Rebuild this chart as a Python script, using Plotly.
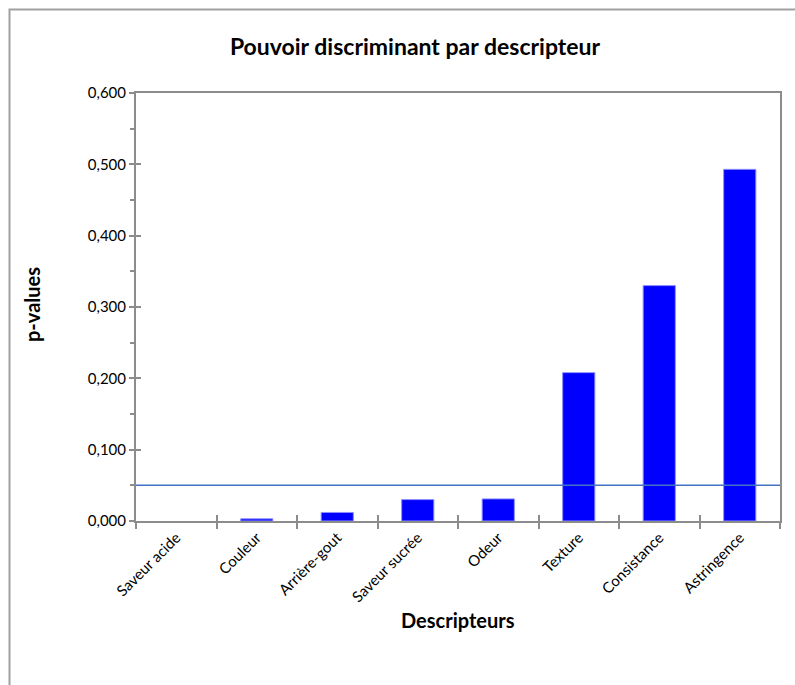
import plotly.graph_objects as go

# p-values of the discrimination test, one per sensory descriptor
descripteurs = ["Saveur acide", "Couleur", "Arrière-gout", "Saveur sucrée",
                "Odeur", "Texture", "Consistance", "Astringence"]
p_values = [0.000, 0.003, 0.012, 0.030, 0.031, 0.208, 0.330, 0.493]
seuil = 0.05  # significance threshold
y_ticks = [0.0, 0.1, 0.2, 0.3, 0.4, 0.5, 0.6]

FONT = "Lato, Carlito, Calibri, sans-serif"
AXIS_GRAY = "#8c8c8c"

W, H = 795, 685
L, R, T, B = 136, 15, 93, 164
pw, ph = W - L - R, H - T - B

fig = go.Figure()

fig.add_trace(go.Bar(
    x=descripteurs, y=p_values,
    marker=dict(color="#0000ff",
                line=dict(color="#8f8fff",
                          width=[0 if v == 0 else 1 for v in p_values])),
    hoverinfo="x+y", showlegend=False,
))

# invisible copy on overlay axes, used to draw the inner half of the cross ticks
fig.add_trace(go.Bar(
    x=descripteurs, y=p_values, xaxis="x2", yaxis="y2",
    marker=dict(color="rgba(0,0,0,0)", line=dict(width=0)),
    hoverinfo="skip", showlegend=False,
))

fig.update_layout(
    width=W, height=H,
    margin=dict(l=L, r=R, t=T, b=B),
    paper_bgcolor="white", plot_bgcolor="white",
    separators=", ",
    bargap=0.6,
    font=dict(family=FONT, size=15, color="#000000"),
    title=dict(text="<b>Pouvoir discriminant par descripteur</b>",
               x=415 / W, xref="container", xanchor="center",
               y=1 - 47 / H, yref="container", yanchor="middle",
               font=dict(size=23, family=FONT, color="#000000")),
    xaxis=dict(
        type="category", categoryorder="array", categoryarray=descripteurs,
        showline=True, linecolor=AXIS_GRAY, linewidth=2, mirror=True,
        ticks="outside", ticklen=6, tickwidth=1.5, tickcolor=AXIS_GRAY,
        tickson="boundaries", tickangle=-45,
        tickfont=dict(size=15, family=FONT, color="#000000"),
        showgrid=False, zeroline=False,
    ),
    yaxis=dict(
        range=[0, 0.6], tickvals=y_ticks, tickformat=".3f",
        showline=True, linecolor=AXIS_GRAY, linewidth=2, mirror=True,
        ticks="outside", ticklen=5, tickwidth=1.5, tickcolor=AXIS_GRAY,
        minor=dict(ticks="outside", ticklen=4, tickwidth=1.5,
                   tickcolor=AXIS_GRAY, dtick=0.05),
        tickfont=dict(size=15, family=FONT, color="#000000"),
        showgrid=False, zeroline=False,
    ),
    xaxis2=dict(
        type="category", categoryorder="array", categoryarray=descripteurs,
        overlaying="x", anchor="y2", showline=False,
        ticks="inside", ticklen=6, tickwidth=1.5, tickcolor=AXIS_GRAY,
        tickson="boundaries", showticklabels=False,
        showgrid=False, zeroline=False,
    ),
    yaxis2=dict(
        range=[0, 0.6], tickvals=y_ticks, overlaying="y", anchor="x2",
        side="left", showline=False,
        ticks="inside", ticklen=5, tickwidth=1.5, tickcolor=AXIS_GRAY,
        showticklabels=False, showgrid=False, zeroline=False,
    ),
    annotations=[
        dict(text="<b>p-values</b>", xref="paper", yref="paper",
             x=(32 - L) / pw, y=(H - B - 305) / ph, textangle=-90,
             xanchor="center", yanchor="middle", showarrow=False,
             font=dict(size=20, family=FONT, color="#000000")),
        dict(text="<b>Descripteurs</b>", xref="paper", yref="paper",
             x=0.5, y=(H - B - 620) / ph,
             xanchor="center", yanchor="middle", showarrow=False,
             font=dict(size=20, family=FONT, color="#000000")),
    ],
    shapes=[
        # significance threshold line
        dict(type="line", xref="paper", yref="y", x0=0, x1=1, y0=seuil, y1=seuil,
             line=dict(color="#4472c4", width=1.5), layer="above"),
        # chart area frame
        dict(type="rect", xref="paper", yref="paper",
             x0=(9.5 - L) / pw, x1=(W + 10 - L) / pw,
             y0=(H - B - H - 10) / ph, y1=1 + (T - 9.5) / ph,
             line=dict(color="#a0a0a0", width=2), fillcolor="rgba(0,0,0,0)"),
    ],
)

fig.write_html("out.html")
